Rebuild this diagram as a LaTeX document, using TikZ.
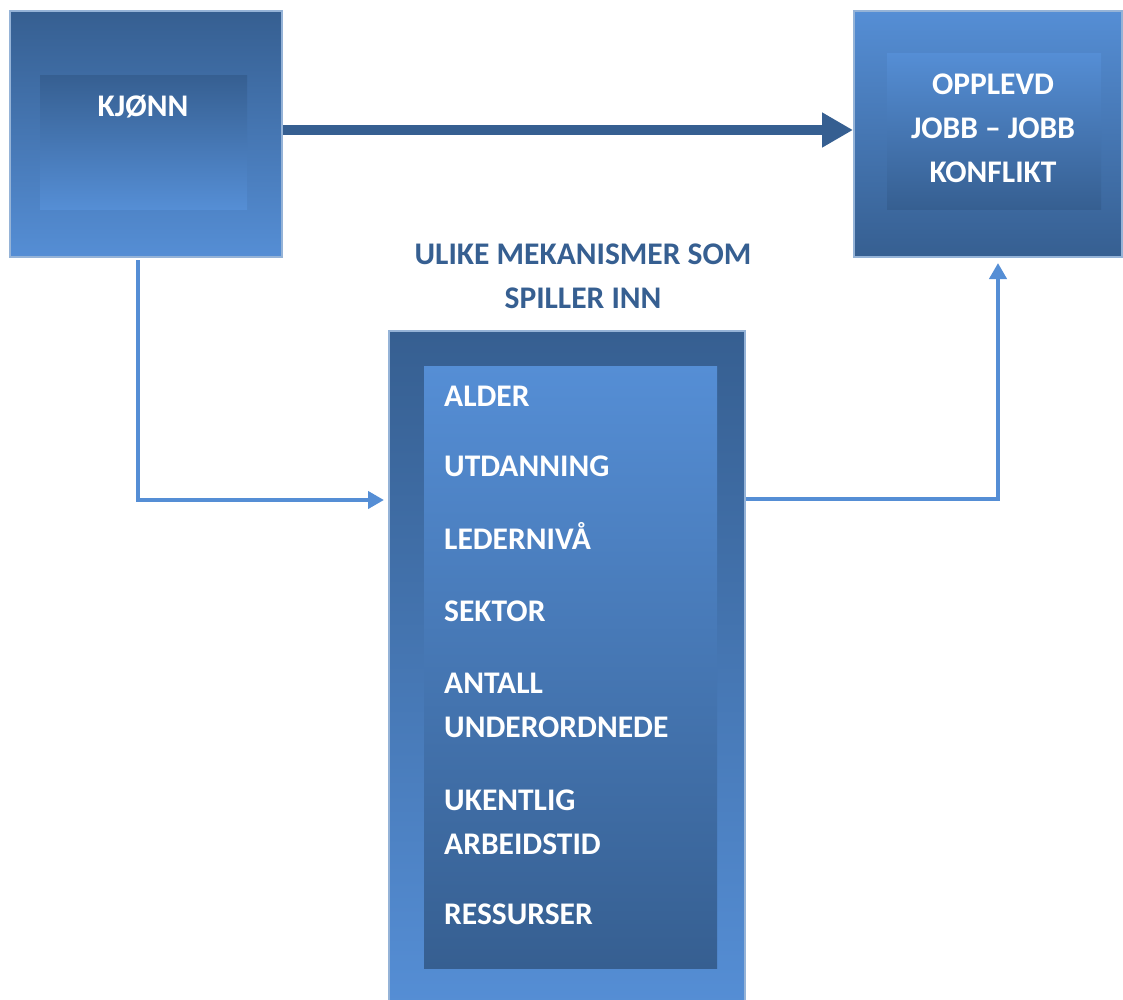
\documentclass[tikz,border=0pt]{standalone}
\usepackage{fontspec}
\setmainfont{Carlito}
\usepackage{xcolor}
\usetikzlibrary{arrows.meta}
\definecolor{mørkblå}{HTML}{365F91}
\definecolor{lysblå}{HTML}{558ED5}
\definecolor{kantblå}{HTML}{95B3D7}
\tikzset{
  boks/.style={draw=kantblå,line width=2pt,minimum width=#1,inner sep=0pt},
  indre/.style={draw=none,minimum width=#1,inner sep=0pt},
  mork ned/.style={top color=mørkblå,bottom color=lysblå},
  lys ned/.style={top color=lysblå,bottom color=mørkblå},
  tekst/.style={text=white,font=\fontsize{31.5}{44}\selectfont\bfseries,inner sep=0pt},
  pil/.style={draw=lysblå,line width=4.5pt,-{Triangle[length=16pt,width=17pt]}}
}
\begin{document}
\begin{tikzpicture}[x=1pt,y=-1pt]
\useasboundingbox (0,0) rectangle (1123,999);
% boksene
\node[boks=272pt,minimum height=246pt,mork ned] (kjonn) at (146,134) {};
\node[indre=207pt,minimum height=134pt,mork ned] (kjonnindre) at (143.5,142) {};
\node[tekst,anchor=base] (kjonntekst) at (143,116) {KJØNN};
\node[boks=268pt,minimum height=246pt,lys ned] (opplevd) at (988,134) {};
\node[indre=214pt,minimum height=156pt,lys ned] (opplevdindre) at (994,131) {};
\node[tekst,align=center] (opplevdtekst) at (993,128) {OPPLEVD\\JOBB -- JOBB\\KONFLIKT};
\node[tekst,text=mørkblå,align=center] (tittel) at (583,276) {ULIKE MEKANISMER SOM\\SPILLER INN};
\node[boks=356pt,minimum height=674pt,mork ned] (mek) at (567,668) {};
\node[indre=293pt,minimum height=602pt,lys ned] (mekindre) at (570.5,667) {};
% base = siste linje
\foreach \y/\navn in {406/ALDER,476/UTDANNING,549/LEDERNIVÅ,621/SEKTOR,737/{ANTALL\\UNDERORDNEDE},854/{UKENTLIG\\ARBEIDSTID},924/RESSURSER}
  \node[tekst,anchor=base west,align=left] (punkt\y) at (444,\y) {\navn};
% pilene
\coordinate (mekinn) at (mek.west |- 0,500);
\coordinate (mekut) at (mek.east |- 0,499);
\draw[mørkblå,line width=10pt,-{Triangle[length=31pt,width=33pt]}] ([yshift=4pt]kjonn.east) -- ([yshift=4pt]opplevd.west);
\draw[pil] ([xshift=-8pt,yshift=-2pt]kjonn.south) |- ([xshift=-4pt]mekinn);
\draw[pil] (mekut) -| ([xshift=10pt,yshift=-5pt]opplevd.south);
\end{tikzpicture}
\end{document}
